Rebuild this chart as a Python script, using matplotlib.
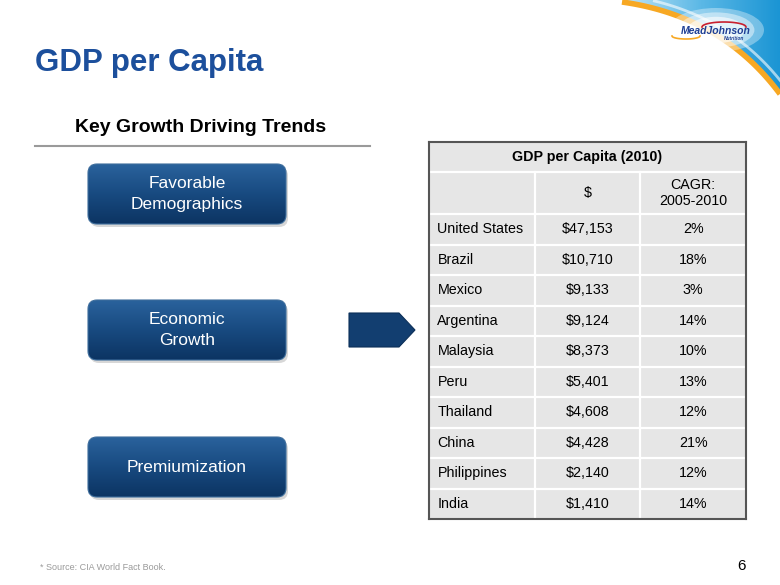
import numpy as np
import matplotlib.pyplot as plt
from matplotlib.patches import FancyBboxPatch, Polygon, Rectangle, Ellipse
from matplotlib.path import Path
from matplotlib.patches import PathPatch

plt.rcParams['font.family'] = ['Liberation Sans', 'DejaVu Sans']

# data
countries = ['United States', 'Brazil', 'Mexico', 'Argentina', 'Malaysia',
             'Peru', 'Thailand', 'China', 'Philippines', 'India']
gdp_2010 = [47153, 10710, 9133, 9124, 8373, 5401, 4608, 4428, 2140, 1410]
cagr_05_10 = [2, 18, 3, 14, 10, 13, 12, 21, 12, 14]
table_title = 'GDP per Capita (2010)'
col_heads = ['', '$', 'CAGR:\n2005-2010']
trends = ['Favorable\nDemographics', 'Economic\nGrowth', 'Premiumization']

W, H = 780, 585
fig = plt.figure(figsize=(W / 100, H / 100), dpi=100)
bg = fig.add_axes([0, 0, 1, 1])
bg.set_xlim(0, W)
bg.set_ylim(H, 0)
bg.axis('off')

# corner swoosh + logo
t = np.linspace(0, 1, 60)
p0, p1, p2 = np.array([622, 0]), np.array([722, 14]), np.array([780, 92])
curve = ((1 - t)**2)[:, None] * p0 + (2 * (1 - t) * t)[:, None] * p1 + (t**2)[:, None] * p2
blue_path = Path(np.vstack([curve, [[780, 0], [622, 0]]]))
clip = PathPatch(blue_path, facecolor='none', edgecolor='none')
bg.add_patch(clip)
grad = np.linspace(0, 1, 100)[None, :]
cm = plt.matplotlib.colors.LinearSegmentedColormap.from_list('sw', ['#bfe4f6', '#5bb8e6', '#1b95d4'])
im = bg.imshow(grad, cmap=cm, extent=[622, 780, 92, 0], origin='upper', aspect='auto', zorder=1)
im.set_clip_path(clip)
bg.plot(curve[:, 0], curve[:, 1] + 2, color='#f7a823', lw=4, zorder=2, solid_capstyle='butt')
bg.plot(curve[8:, 0] + 6, curve[8:, 1] - 4, color='white', lw=2, alpha=0.6, zorder=2)
for k, a in zip([1.0, 0.8, 0.6], [0.35, 0.45, 0.6]):
    bg.add_patch(Ellipse((716, 30), 96 * k, 44 * k, facecolor='white', alpha=a,
                         edgecolor='none', zorder=2))
bg.text(716, 31, 'MeadJohnson', ha='center', va='center', fontsize=7.5, fontweight='bold',
        style='italic', color='#1f3f94', zorder=3)
bg.text(734, 39, 'Nutrition', ha='center', va='center', fontsize=3.5, fontweight='bold',
        style='italic', color='#1f3f94', zorder=3)
arc_t = np.linspace(0, np.pi, 30)
bg.plot(724 + 22 * np.cos(arc_t), 27 - 5 * np.sin(arc_t), color='#c8202f', lw=1.2, zorder=3)
bg.plot(686 + 14 * np.cos(arc_t), 36 + 3 * np.sin(arc_t), color='#f7a823', lw=1.2, zorder=3)

# title
bg.text(35, 63, 'GDP per Capita', fontsize=22.5, fontweight='bold', color='#1c4f9c',
        ha='left', va='center')
bg.text(201, 128, 'Key Growth Driving Trends', fontsize=14, fontweight='bold',
        color='black', ha='center', va='center')
bg.plot([35, 370], [146, 146], color='#9a9a9a', lw=1.5)

# trend boxes
box_x, box_w, box_h = 88, 198, 60
box_tops = [164, 300, 437]
cm_box = plt.matplotlib.colors.LinearSegmentedColormap.from_list('bx', ['#2a629c', '#184a80', '#0c3462'])
for label, top in zip(trends, box_tops):
    bg.add_patch(FancyBboxPatch((box_x + 2, top + 3), box_w, box_h,
                                boxstyle='round,pad=0,rounding_size=9',
                                facecolor='#b0b0b0', edgecolor='none', alpha=0.5, zorder=1))
    patch = FancyBboxPatch((box_x, top), box_w, box_h, boxstyle='round,pad=0,rounding_size=9',
                           facecolor='none', edgecolor='#3d6d9c', lw=0.8, zorder=3)
    bg.add_patch(patch)
    g = bg.imshow(np.linspace(0, 1, 100)[:, None], cmap=cm_box,
                  extent=[box_x, box_x + box_w, top + box_h, top], origin='upper',
                  aspect='auto', zorder=2)
    g.set_clip_path(patch)
    bg.text(box_x + box_w / 2, top + box_h / 2, label, ha='center', va='center',
            fontsize=12.5, color='white', linespacing=1.42, zorder=4)

# arrow
bg.add_patch(Polygon([[349, 313], [399, 313], [415, 330], [399, 347], [349, 347]],
                     closed=True, facecolor='#123e70', edgecolor='#0b2f58', lw=0.8))

# footer
bg.text(40, 567, '* Source: CIA World Fact Book.', fontsize=6.5, color='#9a9a9a',
        ha='left', va='center')
bg.text(741, 566, '6', fontsize=11, color='black', ha='center', va='center')
bg.set_xlim(0, W)
bg.set_ylim(H, 0)

# table
tx0, ty0, tx1, ty1 = 429, 142, 746, 519
tab = fig.add_axes([tx0 / W, 1 - ty1 / H, (tx1 - tx0) / W, (ty1 - ty0) / H])
row_h = [30, 42] + [30.5] * len(countries)
edges = np.concatenate([[0], np.cumsum(row_h)])
tab.set_xlim(0, 3)
tab.set_ylim(edges[-1], 0)
tab.set_xticks([])
tab.set_yticks([])
tab.add_patch(Rectangle((0, 0), 3, edges[-1], facecolor='#e6e6e6', edgecolor='none'))
for e in edges[1:-1]:
    tab.plot([0, 3], [e, e], color='white', lw=1.6)
for c in (1, 2):
    tab.plot([c, c], [edges[1], edges[-1]], color='white', lw=1.6)
for s in tab.spines.values():
    s.set_color('#555555')
    s.set_linewidth(1.5)

tfs = 10.3
mid = (edges[:-1] + edges[1:]) / 2
tab.text(1.5, mid[0], table_title, ha='center', va='center', fontsize=tfs, fontweight='bold')
for c, head in enumerate(col_heads):
    tab.text(c + 0.5, mid[1], head, ha='center', va='center', fontsize=tfs, linespacing=1.15)
for i, (name, g_val, c_val) in enumerate(zip(countries, gdp_2010, cagr_05_10)):
    y = mid[i + 2]
    tab.text(0.08, y, name, ha='left', va='center', fontsize=tfs)
    tab.text(1.5, y, f'${g_val:,}', ha='center', va='center', fontsize=tfs)
    tab.text(2.5, y, f'{c_val}%', ha='center', va='center', fontsize=tfs)

fig.savefig('out.png', dpi=100)
